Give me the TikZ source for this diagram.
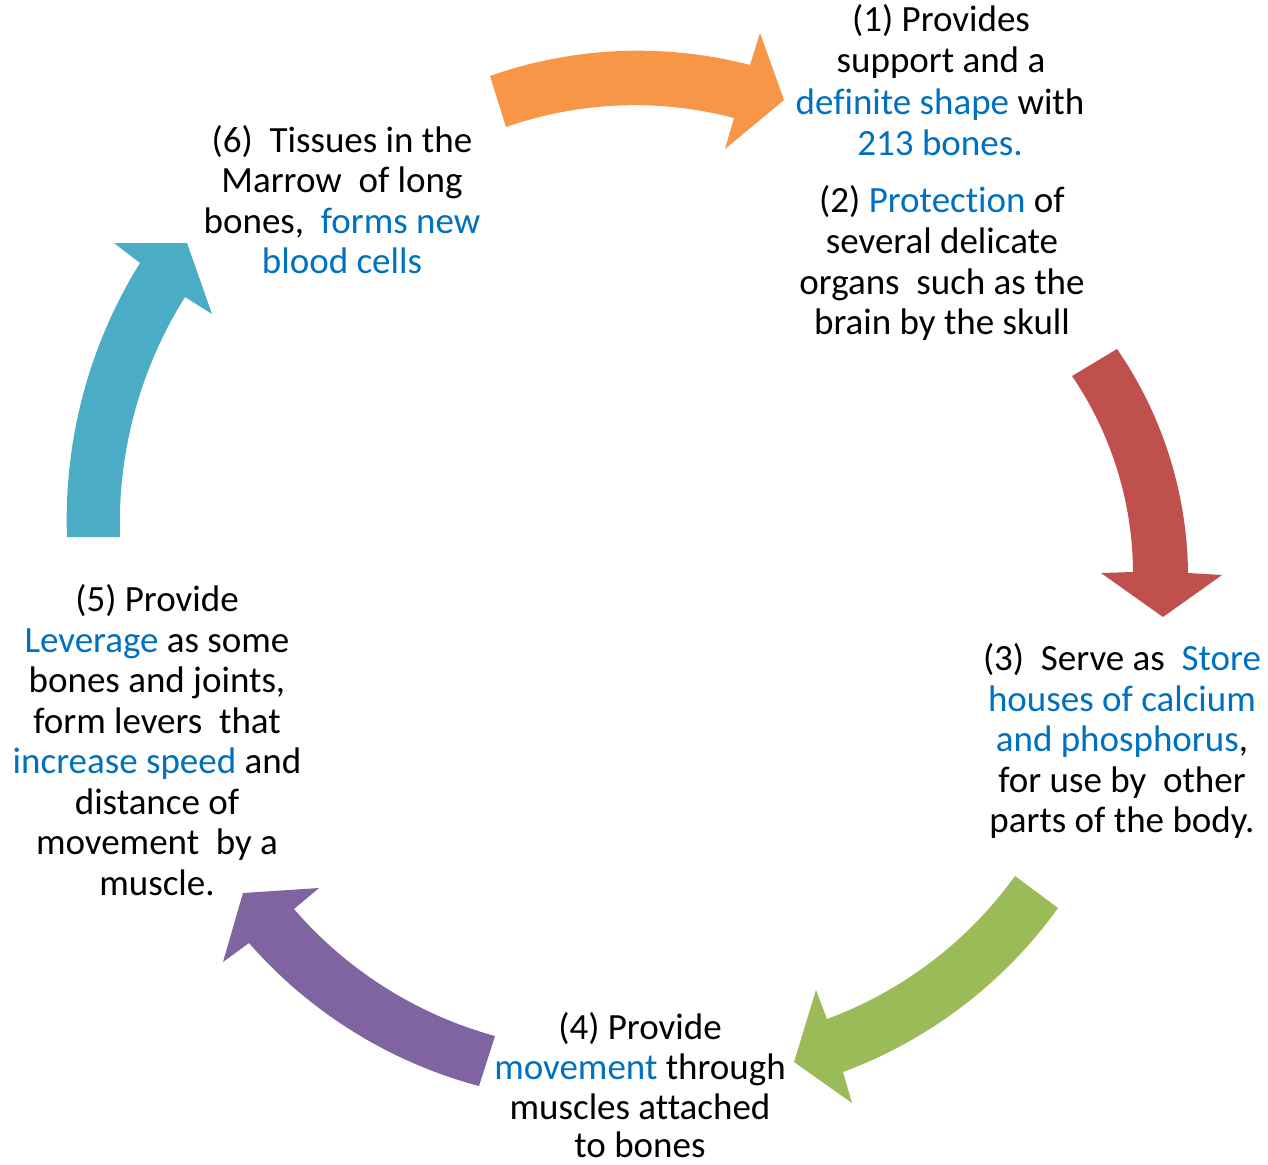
\documentclass[tikz,border=0pt]{standalone}
\usepackage{fontspec}
\setmainfont{Carlito}[Ligatures=NoCommon]
\definecolor{cOrange}{HTML}{F79646}
\definecolor{cRed}{HTML}{C0504D}
\definecolor{cGreen}{HTML}{9BBB59}
\definecolor{cPurple}{HTML}{8064A2}
\definecolor{cTeal}{HTML}{4BACC6}
\definecolor{txtblue}{HTML}{0070C0}
\newcommand{\bl}[1]{\textcolor{txtblue}{#1}}
\begin{document}
\begin{tikzpicture}[x=1pt,y=-1pt,
  txt/.style={anchor=base, inner sep=0pt, font=\fontsize{37}{41}\selectfont, text=black},
  edgeout/.style={bend left=17, looseness=0.87},
  edgein/.style={bend right=17, looseness=0.87}]
\fill[white] (0,0) rectangle (1268,1164);
\useasboundingbox (0,0) rectangle (1268,1164);

% ---- orange arrow (1)
\coordinate (oTo) at (490,76);
\coordinate (oBo) at (750,65);
\coordinate (oHo) at (760,33);
\coordinate (oTip) at (784,100);
\coordinate (oHi) at (725,149);
\coordinate (oBi) at (734,118);
\coordinate (oTi) at (506,127);
\fill[cOrange] (oTo) to[edgeout] (oBo) -- (oHo) -- (oTip) -- (oHi) -- (oBi) to[edgein] (oTi) -- cycle;

% ---- red arrow
\coordinate (rTo) at (1117,349);
\coordinate (rBo) at (1188,573);
\coordinate (rHo) at (1222,575);
\coordinate (rTip) at (1163,617);
\coordinate (rHi) at (1101,573);
\coordinate (rBi) at (1133,572);
\coordinate (rTi) at (1072,376);
\fill[cRed] (rTo) to[edgeout] (rBo) -- (rHo) -- (rTip) -- (rHi) -- (rBi) to[edgein] (rTi) -- cycle;

% ---- green arrow
\coordinate (gTo) at (1058,908);
\coordinate (gBo) at (843,1072);
\coordinate (gHo) at (852,1103);
\coordinate (gTip) at (794,1062);
\coordinate (gHi) at (816,990);
\coordinate (gBi) at (827,1019);
\coordinate (gTi) at (1015,876);
\fill[cGreen] (gTo) to[edgeout] (gBo) -- (gHo) -- (gTip) -- (gHi) -- (gBi) to[edgein] (gTi) -- cycle;

% ---- purple arrow
\coordinate (pTo) at (479,1086);
\coordinate (pBo) at (249,943);
\coordinate (pHo) at (223,962);
\coordinate (pTip) at (243,893);
\coordinate (pHi) at (319,888);
\coordinate (pBi) at (294,909);
\coordinate (pTi) at (495,1036);
\fill[cPurple] (pTo) to[edgeout] (pBo) -- (pHo) -- (pTip) -- (pHi) -- (pBi) to[edgein] (pTi) -- cycle;

% ---- teal arrow
\coordinate (tTo) at (67,537);
\coordinate (tBo) at (140,263);
\coordinate (tHo) at (114,243);
\coordinate (tTip) at (187,243);
\coordinate (tHi) at (212,314);
\coordinate (tBi) at (185,297);
\coordinate (tTi) at (120,537);
\fill[cTeal] (tTo) to[edgeout] (tBo) -- (tHo) -- (tTip) -- (tHi) -- (tBi) to[edgein] (tTi) -- cycle;

% ---- text (1)
\node[txt] (t1a) at (941,32) {(1) Provides};
\node[txt] (t1b) at (941,73) {support and a};
\node[txt] (t1c) at (940,114) {\bl{definite shape} with};
\node[txt] (t1d) at (940,155) {\bl{213 bones.}};
% ---- text (2)
\node[txt] (t2a) at (942,212) {(2) \bl{Protection} of};
\node[txt] (t2b) at (942,253) {several delicate};
\node[txt] (t2c) at (942,294) {organs\ \ such as the};
\node[txt] (t2d) at (942,334) {brain by the skull};
% ---- text (3)
\node[txt] (t3a) at (1122,670) {(3)\ \ Serve as\ \ \bl{Store}};
\node[txt] (t3b) at (1122,711) {\bl{houses of calcium}};
\node[txt] (t3c) at (1122,751) {\bl{and phosphorus},};
\node[txt] (t3d) at (1122,792) {for use by\ \ other};
\node[txt] (t3e) at (1122,832) {parts of the body.};
% ---- text (4)
\node[txt] (t4a) at (640,1039) {(4) Provide};
\node[txt] (t4b) at (640,1079) {\bl{movement} through};
\node[txt] (t4c) at (640,1119) {muscles attached};
\node[txt] (t4d) at (640,1157) {to bones};
% ---- text (5)
\node[txt] (t5a) at (157,611) {(5) Provide};
\node[txt] (t5b) at (157,652) {\bl{Leverage} as some};
\node[txt] (t5c) at (157,692) {bones and joints,};
\node[txt] (t5d) at (157,733) {form levers\ \ that};
\node[txt] (t5e) at (157,773) {\bl{increase speed} and};
\node[txt] (t5f) at (157,814) {distance of};
\node[txt] (t5g) at (157,854) {movement\ \ by a};
\node[txt] (t5h) at (157,895) {muscle.};
% ---- text (6)
\node[txt] (t6a) at (342,152) {(6)\ \ Tissues in the};
\node[txt] (t6b) at (342,192) {Marrow\ \ of long};
\node[txt] (t6c) at (342,233) {bones,\ \ \bl{forms new}};
\node[txt] (t6d) at (342,273) {\bl{blood cells}};
\end{tikzpicture}
\end{document}
